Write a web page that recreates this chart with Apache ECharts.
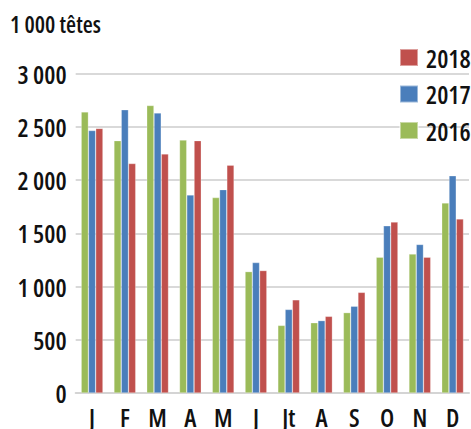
<!DOCTYPE html>
<html>
<head>
<meta charset="utf-8">
<script src="https://cdn.jsdelivr.net/npm/echarts@6/dist/echarts.min.js"></script>
<style>
  html, body { margin: 0; padding: 0; background: #fff; }
  #chart { width: 471px; height: 429px; }
  /* narrow lettering for every label of the chart */
  #chart text { font-stretch: 75% !important; }
</style>
</head>
<body>
<div id="chart"></div>
<script>
// Monthly head count, in thousands of heads
const months = ['J', 'F', 'M', 'A', 'M', 'J', 'Jt', 'A', 'S', 'O', 'N', 'D'];
const values2016 = [2640, 2370, 2700, 2375, 1835, 1140, 635, 660, 755, 1275, 1305, 1785];
const values2017 = [2465, 2660, 2630, 1860, 1910, 1225, 785, 680, 815, 1570, 1395, 2040];
const values2018 = [2485, 2155, 2245, 2370, 2140, 1150, 875, 720, 945, 1605, 1275, 1635];
const yTicks = { min: 0, max: 3000, interval: 500 };

const FONT = '"Open Sans", sans-serif';

function fmtThousands(v) {
  return String(v).replace(/\B(?=(\d{3})+(?!\d))/g, '\u00a0');
}

const chart = echarts.init(document.getElementById('chart'), null, { renderer: 'svg' });

function barSeries(name, data, color) {
  return {
    name: name,
    type: 'bar',
    data: data,
    barGap: '0%',
    barCategoryGap: '33.4%',
    itemStyle: { color: color, borderColor: 'rgba(255,255,255,0.45)', borderWidth: 0.6 },
    emphasis: { disabled: true }
  };
}

chart.setOption({
  animation: false,
  title: {
    text: '1 000 têtes',
    left: 5,
    top: 7,
    textStyle: { fontFamily: FONT, fontSize: 23, fontWeight: 600, color: '#111' }
  },
  legend: {
    orient: 'vertical',
    left: 399,
    top: 45,
    padding: 0,
    itemWidth: 18,
    itemHeight: 17,
    itemGap: 11.5,
    icon: 'rect',
    data: ['2018', '2017', '2016'],
    textStyle: {
      fontFamily: FONT, fontSize: 25, fontWeight: 600, color: '#111',
      padding: [0, 0, 0, 3]
    }
  },
  grid: { left: 69, right: 2, top: 73.5, bottom: 30.5, containLabel: false },
  xAxis: {
    type: 'category',
    data: months,
    axisLine: { show: true, lineStyle: { color: '#d4d4d4', width: 2 } },
    axisTick: { show: false },
    axisLabel: { fontFamily: FONT, fontSize: 25, fontWeight: 600, color: '#111', margin: 11, interval: 0 }
  },
  yAxis: {
    type: 'value',
    min: yTicks.min,
    max: yTicks.max,
    interval: yTicks.interval,
    axisLine: { show: false },
    axisTick: { show: false },
    splitLine: { lineStyle: { color: '#d9d9d9', width: 2 } },
    axisLabel: {
      fontFamily: FONT, fontSize: 25, fontWeight: 600, color: '#111', margin: 9,
      formatter: fmtThousands
    }
  },
  series: [
    barSeries('2016', values2016, '#9BBB59'),
    barSeries('2017', values2017, '#4A7EBB'),
    barSeries('2018', values2018, '#C0504D')
  ]
});
</script>
</body>
</html>
